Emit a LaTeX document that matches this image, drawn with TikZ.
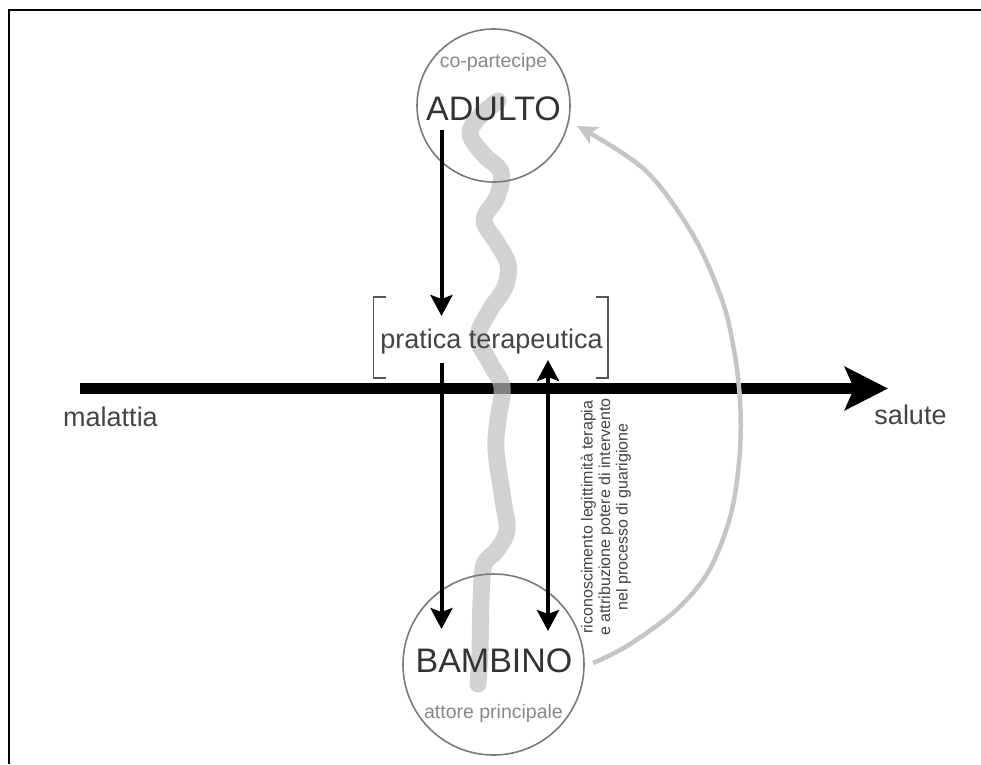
\documentclass[tikz,border=0pt]{standalone}
\usepackage{fontspec}
\setmainfont{Liberation Sans}
\usetikzlibrary{arrows.meta}
\definecolor{txtdark}{HTML}{333333}
\definecolor{txtmid}{HTML}{444444}
\definecolor{txtlight}{HTML}{888888}
\definecolor{circcol}{HTML}{7A7A7A}
\definecolor{brackcol}{HTML}{555555}
\definecolor{wavecol}{RGB}{190,190,190}
\definecolor{arccol}{RGB}{196,198,194}
\tikzset{
  ringnode/.style={circle, draw=circcol, line width=1.6pt, inner sep=0pt},
  bigword/.style={anchor=base, text=txtdark, font=\fontsize{34}{38}\selectfont},
  smallword/.style={anchor=base, text=txtlight, font=\fontsize{19.5}{22}\selectfont},
  midword/.style={anchor=base, text=txtmid, font=\fontsize{27}{30}\selectfont},
  blackarrow/.style={line width=4pt, draw=black, -{Stealth[length=21pt,width=22pt,inset=4pt]}},
  doublearrow/.style={line width=4pt, draw=black, {Stealth[length=21pt,width=22pt,inset=4pt]}-{Stealth[length=21pt,width=22pt,inset=4pt]}},
  mainarrow/.style={line width=11pt, draw=black, -{Stealth[length=43pt,width=43pt,inset=9pt]}},
  bracketline/.style={draw=brackcol, line width=1.5pt},
  waveline/.style={draw=wavecol, opacity=0.68, line width=17pt, line cap=round, line join=round},
  arcarrow/.style={draw=arccol, line width=4.5pt, -{Stealth[length=20pt,width=19pt,inset=5pt]}}
}
\begin{document}
\begin{tikzpicture}[x=1pt,y=-1pt]
\useasboundingbox (0,0) rectangle (981,764);
\fill[white] (0,0) rectangle (981,764);
% frame
\draw[line width=2pt, black] (8.5,764) -- (8.5,9.8) -- (981,9.8);

% main horizontal arrow
\coordinate (hstart) at (80,388.5);
\coordinate (hend) at (888,388.5);
\draw[mainarrow] (hstart) -- (hend);

% wavy gray band
\draw[waveline] plot[smooth, tension=0.6] coordinates {
 (498,101) (480,116) (470,134) (484,155) (501,172) (497,197) (484,220) (497,243)
 (508,264) (505,287) (490,310) (478,337) (490,363) (502,387) (498,420) (496,450)
 (503,500) (507,530) (497,550) (484,565) (481,600) (480,650) (478,684)};

% circles
\node[ringnode, minimum size=153pt] (adulto) at (493.5,105.5) {};
\node[ringnode, minimum size=181pt] (bambino) at (493.5,664.5) {};

% brackets
\draw[bracketline] (386,297) -- (373.5,297) -- (373.5,378) -- (386,378);
\draw[bracketline] (596,297) -- (608,297) -- (608,378) -- (596,378);

% vertical arrows
\coordinate (a1s) at (441.5,130);
\coordinate (a1e) at (441.5,316);
\coordinate (a2s) at (441.5,363);
\coordinate (a2e) at (441.5,629);
\coordinate (a3s) at (548,360);
\coordinate (a3e) at (548,631);
\draw[blackarrow] (a1s) -- (a1e);
\draw[blackarrow] (a2s) -- (a2e);
\draw[doublearrow] (a3e) -- (a3s);

% curved gray arrow
\draw[arcarrow] plot[smooth, tension=0.55] coordinates {
 (593,663) (627,646) (673,613) (703,580) (720,547) (733,505) (740,450) (740,400)
 (734,350) (722,300) (693,235) (645,170) (577,126)};

% texts
\node[smallword] (copart) at (493.5,67) {co-partecipe};
\node[bigword] (adultotxt) at (493.5,120) {ADULTO};
\node[bigword] (bambinotxt) at (494,672) {BAMBINO};
\node[smallword] (attore) at (493.5,718.5) {attore principale};
\node[midword] (pratica) at (491.5,348) {pratica terapeutica};
\node[midword] (malattia) at (110.5,426) {malattia};
\node[midword] (salute) at (910.5,424) {salute};
\node[rotate=90, align=center, text=txtmid, font=\fontsize{16}{17.5}\selectfont] (ricon) at (606,517)
 {riconoscimento legittimità terapia\\e attribuzione potere di intervento\\nel processo di guarigione};
\end{tikzpicture}
\end{document}
